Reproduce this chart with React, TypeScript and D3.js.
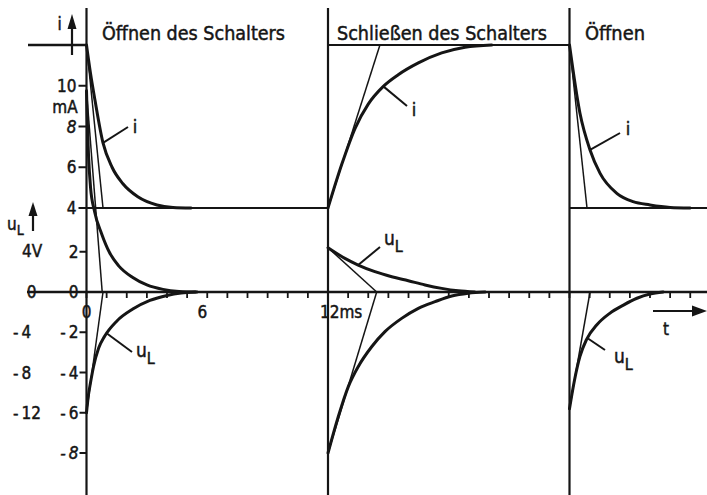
import React from "react";
import * as d3 from "d3";

type Pt = [number, number];

// Switching instants (ms) and the phase titles shown above each interval
const switchTimes = [0, 12, 24];
const phaseTitles = ["Öffnen des Schalters", "Schließen des Schalters", "Öffnen"];

// Axis ticks and labels
const timeTicks = d3.range(0, 31);
const timeLabels = ["0", "6", "12ms"];
const timeLabelAt = [0, 6, 12];
const currentTicks = [10, 8, 6, 4];
const voltageTicks = [2, 0, -2, -4, -6, -8];
const outerVoltageLabels = [0, -4, -8, -12];

// Current levels (mA)
const iClosed = 12;
const iOpen = 4;

// Curves: [time after the switching instant (ms), value]
// 1st opening (t = 0)
const iFall1: Pt[] = [
  [0, 12], [0.2, 10.6], [0.42, 9.3], [0.82, 7.2], [1.27, 6.0], [1.8, 5.2],
  [2.55, 4.55], [3.5, 4.15], [4.3, 4.03], [5.2, 4.0],
];
const uUpper1: Pt[] = [
  [0, 10], [0.04, 8.5], [0.1, 6.8], [0.2, 5.2], [0.4, 4.0], [0.75, 2.9],
  [1.15, 1.95], [1.6, 1.3], [2.3, 0.72], [3.0, 0.35], [3.8, 0.13], [4.6, 0.03], [5.5, 0],
];
const uL1: Pt[] = [
  [0, -6], [0.1, -5.1], [0.2, -4.5], [0.35, -3.7], [0.6, -2.8], [0.9, -2.2],
  [1.5, -1.45], [2.3, -0.85], [3.15, -0.42], [4.0, -0.17], [4.7, -0.05], [5.4, 0],
];
// Closing (t = 12)
const iRise: Pt[] = [
  [0, 4], [0.68, 6.13], [1.34, 7.9], [2.0, 9.1], [2.75, 9.97], [3.49, 10.54],
  [4.49, 11.12], [5.65, 11.61], [6.81, 11.89], [8.13, 12],
];
const uL2: Pt[] = [
  [0, 2.2], [0.84, 1.67], [1.5, 1.34], [2.33, 1.01], [3.17, 0.76], [3.99, 0.56],
  [4.82, 0.35], [5.65, 0.18], [6.47, 0.06], [7.3, 0],
];
const uLower2: Pt[] = [
  [0, -8], [0.51, -6.2], [1.01, -4.7], [1.5, -3.71], [2.17, -2.72], [2.83, -1.97],
  [3.66, -1.31], [4.49, -0.81], [5.32, -0.48], [6.15, -0.2], [6.97, -0.06], [7.8, 0],
];
// 2nd opening (t = 24)
const iFall3: Pt[] = [
  [0, 12], [0.52, 8.65], [1.02, 6.85], [1.52, 5.7], [2.35, 4.72], [3.16, 4.31],
  [4.0, 4.15], [5.0, 4.03], [6.0, 4.0],
];
const uL3: Pt[] = [
  [0, -5.8], [0.25, -4.37], [0.52, -3.2], [0.85, -2.35], [1.35, -1.64], [2.0, -1.06],
  [2.68, -0.65], [3.35, -0.31], [4.0, -0.1], [4.65, 0],
];

// Tangent lines at the switching instants: [t start, value start, t end, value end]
const iTangents: number[][] = [
  [0, 12, 0.82, 4],
  [12, 4, 14.58, 12],
  [24, 12, 24.87, 4],
];
const uTangents: number[][] = [
  [0, 10, 0.78, 0],
  [0, -6, 0.82, 0],
  [12, 2.2, 14.42, 0],
  [12, -8, 14.42, 0],
  [24, -5.8, 25.02, 0],
];

const W = 707;
const H = 495;
const INK = "#151515";
const FONT = "'DejaVu Sans Condensed', 'DejaVu Sans', sans-serif";
const TXT = { fontFamily: FONT, fill: INK, stroke: INK, strokeWidth: 0.45 };

export default function App() {
  const x = d3.scaleLinear().domain([0, 12]).range([86.5, 328]);
  const yI = d3.scaleLinear().domain([4, 12]).range([208, 45]);
  const yU = d3.scaleLinear().domain([0, -8]).range([292, 453]);

  const curve = (t0: number, y: d3.ScaleLinear<number, number>) =>
    d3
      .line<Pt>()
      .x((d) => x(t0 + d[0]))
      .y((d) => y(d[1]))
      .curve(d3.curveMonotoneX);

  const thick = { fill: "none", stroke: INK, strokeWidth: 3, strokeLinecap: "round" as const, strokeLinejoin: "round" as const };
  const thin = { stroke: INK, strokeWidth: 1.5 };

  const x0 = x(switchTimes[0]);
  const x1 = x(switchTimes[1]);
  const x2 = x(switchTimes[2]);
  const yZero = yU(0);

  const titleX = [x0 + 15.5, x1 + 9, x2 + 15.5];
  const titleLen = [183, 210, 60];

  // leader line from a curve point to the label
  const leader = (px: number, py: number, qx: number, qy: number) => (
    <line x1={px} y1={py} x2={qx} y2={qy} stroke={INK} strokeWidth={2} />
  );
  const uLabel = (lx: number, ly: number) => (
    <text x={lx} y={ly} {...TXT} fontSize={19}>
      u<tspan fontSize={16} dy={7}>L</tspan>
    </text>
  );

  return (
    <svg
      width={W}
      height={H}
      style={{ position: "absolute", left: 0, top: 0, background: "#fff" }}
    >
      <rect width={W} height={H} fill="#fff" />

      {/* phase separators (x = 0 is also the value axis) */}
      {switchTimes.map((t) => (
        <line key={t} x1={x(t)} x2={x(t)} y1={8} y2={H} stroke={INK} strokeWidth={2.2} />
      ))}

      {/* phase titles */}
      {phaseTitles.map((s, k) => (
        <text
          key={s}
          x={titleX[k]}
          y={40}
          {...TXT}
          fontSize={19}
          textLength={titleLen[k]}
          lengthAdjust="spacingAndGlyphs"
        >
          {s}
        </text>
      ))}

      {/* steady current levels */}
      <line x1={28} x2={x0} y1={yI(iClosed)} y2={yI(iClosed)} stroke={INK} strokeWidth={2.4} />
      <line x1={x1} x2={x2} y1={yI(iClosed)} y2={yI(iClosed)} stroke={INK} strokeWidth={2.2} />
      <line x1={x0} x2={x1} y1={yI(iOpen)} y2={yI(iOpen)} stroke={INK} strokeWidth={2.2} />
      <line x1={x2} x2={W} y1={yI(iOpen)} y2={yI(iOpen)} stroke={INK} strokeWidth={2.2} />

      {/* time axis */}
      <line x1={27} x2={W} y1={yZero} y2={yZero} stroke={INK} strokeWidth={2.4} />
      {timeTicks.map((t) => (
        <line key={t} x1={x(t)} x2={x(t)} y1={yZero} y2={yZero + 6} stroke={INK} strokeWidth={1.8} />
      ))}
      {timeLabels.map((s, k) => {
        const tx = x(timeLabelAt[k]);
        const anchor = k === 2 ? "start" : "middle";
        const dx = k === 0 ? 0 : k === 1 ? -5 : -8;
        return (
          <text key={s} x={tx + dx} y={318} {...TXT} fontSize={17} textAnchor={anchor}>
            {s}
          </text>
        );
      })}
      {/* t arrow */}
      <line x1={653} x2={698} y1={311} y2={311} stroke={INK} strokeWidth={2.2} />
      <path d="M707,311 L692,305.5 L692,316.5 Z" fill={INK} />
      <text x={666} y={335} {...TXT} fontSize={17} textAnchor="middle">t</text>

      {/* current ticks and labels */}
      {currentTicks.map((v) => (
        <g key={"i" + v}>
          <line x1={x0 - 8} x2={x0} y1={yI(v)} y2={yI(v)} stroke={INK} strokeWidth={2} />
          <text
            x={x0 - 10}
            y={yI(v) + 6}
            {...TXT}
            fontSize={17}
            textAnchor="end"
            fontStyle={v === 8 ? "italic" : "normal"}
          >
            {v}
          </text>
        </g>
      ))}
      <text x={65} y={113} {...TXT} fontSize={17} textAnchor="middle">mA</text>
      {/* i arrow */}
      <line x1={72} x2={72} y1={55} y2={26} stroke={INK} strokeWidth={2.2} />
      <path d="M72,14 L67.5,29 L76.5,29 Z" fill={INK} />
      <text x={59.5} y={30} {...TXT} fontSize={17} textAnchor="middle">i</text>

      {/* voltage ticks and labels */}
      {voltageTicks.map((v) => (
        <g key={"u" + v}>
          <line x1={x0 - 7} x2={x0} y1={yU(v)} y2={yU(v)} stroke={INK} strokeWidth={2} />
          <text
            x={x0 - 8}
            y={yU(v) + 6}
            {...TXT}
            fontSize={17}
            textAnchor="end"
            fontStyle={v === -8 ? "italic" : "normal"}
          >
            {v < 0 ? "-\u2009" + Math.abs(v) : String(v)}
          </text>
        </g>
      ))}
      {outerVoltageLabels.map((v) => (
        <text
          key={"o" + v}
          x={v === 0 ? 31.5 : 13}
          y={yU(v / 2) + 6}
          {...TXT}
          fontSize={17}
          textAnchor={v === 0 ? "middle" : "start"}
        >
          {v < 0 ? "-\u2009" + Math.abs(v) : String(v)}
        </text>
      ))}
      {/* u_L arrow and unit */}
      <line x1={33} x2={33} y1={231} y2={212} stroke={INK} strokeWidth={2.2} />
      <path d="M33,202 L28.5,216 L37.5,216 Z" fill={INK} />
      <text x={7} y={230} {...TXT} fontSize={17}>
        u<tspan fontSize={14} dy={5}>L</tspan>
      </text>
      <text x={32} y={257} {...TXT} fontSize={17} textAnchor="middle">4V</text>

      {/* tangents */}
      {iTangents.map((d, k) => (
        <line key={"ti" + k} x1={x(d[0])} y1={yI(d[1])} x2={x(d[2])} y2={yI(d[3])} {...thin} />
      ))}
      {uTangents.map((d, k) => (
        <line key={"tu" + k} x1={x(d[0])} y1={yU(d[1])} x2={x(d[2])} y2={yU(d[3])} {...thin} />
      ))}

      {/* transient curves */}
      <path d={curve(0, yI)(iFall1) ?? ""} {...thick} />
      <path d={curve(0, yU)(uUpper1) ?? ""} {...thick} />
      <path d={curve(0, yU)(uL1) ?? ""} {...thick} />
      <path d={curve(12, yI)(iRise) ?? ""} {...thick} />
      <path d={curve(12, yU)(uL2) ?? ""} {...thick} />
      <path d={curve(12, yU)(uLower2) ?? ""} {...thick} />
      <path d={curve(24, yI)(iFall3) ?? ""} {...thick} />
      <path d={curve(24, yU)(uL3) ?? ""} {...thick} />

      {/* curve labels */}
      {leader(x(0.82), yI(7.2), 128, 127)}
      <text x={135} y={133} {...TXT} fontSize={18} textAnchor="middle">i</text>
      {leader(x(1.0), yU(-2.05), 132, 352)}
      {uLabel(136, 357)}

      {leader(x(12 + 2.75), yI(9.97), 407, 106)}
      <text x={414} y={116} {...TXT} fontSize={18} textAnchor="middle">i</text>
      {leader(x(12 + 1.5), yU(1.34), 380, 247)}
      {uLabel(384, 245)}

      {leader(x(24 + 1.02), yI(6.85), 620, 133)}
      <text x={628} y={135} {...TXT} fontSize={18} textAnchor="middle">i</text>
      {leader(x(24 + 0.9), yU(-2.3), 605, 350)}
      {uLabel(614, 363)}
    </svg>
  );
}
